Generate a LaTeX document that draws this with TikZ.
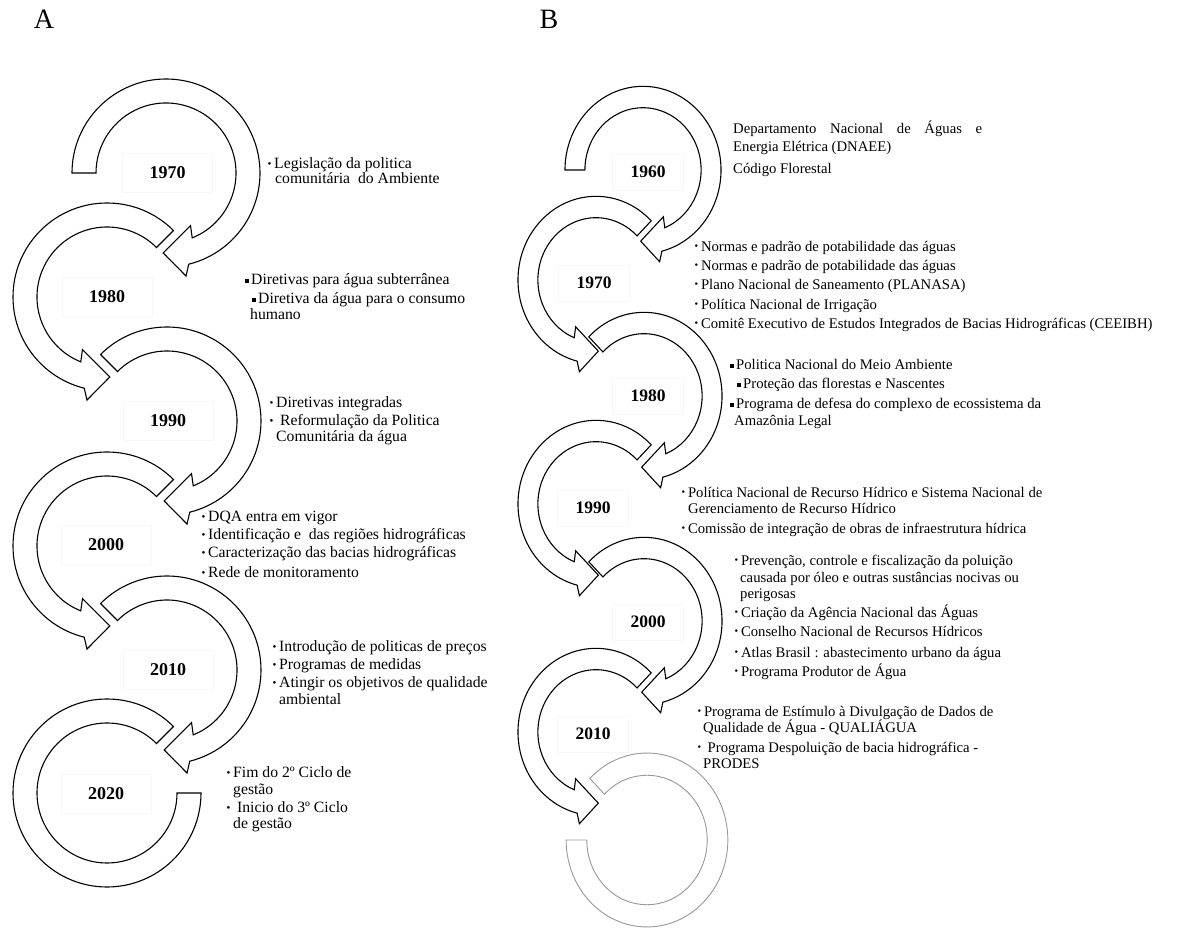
\documentclass[tikz,border=0pt]{standalone}
\usepackage{fontspec}
\usepackage{graphicx}
\setmainfont{Liberation Serif}
\newcommand{\bA}{\makebox[6pt][l]{\hspace*{-0.6pt}\raisebox{1.6pt}{\scalebox{0.7}{•}}}}
\newcommand{\bB}{\makebox[5.8pt][l]{\hspace*{-0.6pt}\raisebox{1.5pt}{\scalebox{0.7}{•}}}}
\newcommand{\sA}{\makebox[6pt][l]{\rule[1.8pt]{3.8pt}{3.8pt}}}
\newcommand{\sB}{\makebox[6pt][l]{\rule[1.7pt]{3.5pt}{3.5pt}}}
% clockwise circular arrow: #1 = placement options, #2 = start angle of the tail
\newcommand{\cwarr}[2]{\draw[band,#1] (#2:94) arc[start angle=#2,end angle=-76,radius=94] -- (-79:105) -- (-92:80) -- (-65:58) -- (-68:70) arc[start angle=-68,end angle=#2,radius=70] -- cycle;}
% counter-clockwise circular arrow: #1 = placement options
\newcommand{\ccwarr}[1]{\draw[band,#1] (45:94) arc[start angle=45,end angle=256,radius=94] -- (259:105) -- (272:80) -- (245:58) -- (248:70) arc[start angle=248,end angle=45,radius=70] -- cycle;}
\tikzset{
  band/.style={draw=black, fill=white, line width=1.1pt, line join=miter},
  gband/.style={draw=black!40, fill=white, line width=0.9pt},
  yrA/.style={font=\fontsize{18}{20}\selectfont\bfseries, draw=black!3, line width=0.4pt, minimum width=90pt, minimum height=39pt, inner sep=0pt},
  yrB/.style={font=\fontsize{17.5}{20}\selectfont\bfseries, draw=black!3, line width=0.4pt, minimum width=71pt, minimum height=36pt, inner sep=0pt},
  tA/.style={font=\fontsize{15.7}{17}\selectfont, anchor=base west, inner sep=0pt},
  tB/.style={font=\fontsize{14.7}{16}\selectfont, anchor=base west, inner sep=0pt},
  pan/.style={font=\fontsize{28}{30}\selectfont, inner sep=0pt}
}
\begin{document}
\begin{tikzpicture}[x=1pt,y=1pt]
\useasboundingbox[fill=white] (0,0) rectangle (1189,929);
% panel letters
\node[pan] (pA) at (44,910) {A};
\node[pan] (pB) at (549,910) {B};
% ---------------- Panel A arrows
\cwarr{shift={(166,756)}}{180}
\ccwarr{shift={(107,632)}}
\cwarr{shift={(167,508)}}{135}
\ccwarr{shift={(107,383)}}
\cwarr{shift={(167,259)}}{135}
\draw[band,shift={(107,136)}] (45:94) arc[start angle=45,end angle=360,radius=94] -- (0:70) arc[start angle=360,end angle=45,radius=70] -- cycle;
% ---------------- Panel B arrows
\cwarr{shift={(643,759)},xscale=0.83,yscale=0.89}{180}
\ccwarr{shift={(596,649)},xscale=0.83,yscale=0.89}
\cwarr{shift={(644,533)},xscale=0.83,yscale=0.89}{135}
\ccwarr{shift={(596,425)},xscale=0.83,yscale=0.89}
\cwarr{shift={(644,308)},xscale=0.83,yscale=0.89}{135}
\ccwarr{shift={(596,197)},xscale=0.83,yscale=0.89}
\draw[gband,shift={(647,89)},xscale=0.86,yscale=0.925] (180:94) arc[start angle=180,end angle=495,radius=94] -- (135:70) arc[start angle=495,end angle=180,radius=70] -- cycle;
% ---------------- years A
\node[yrA] (yA70) at (167.5,756) {1970};
\node[yrA] (yA80) at (107,632) {1980};
\node[yrA] (yA90) at (168,508) {1990};
\node[yrA] (yA00) at (106,384) {2000};
\node[yrA] (yA10) at (168,259) {2010};
\node[yrA] (yA20) at (106,135) {2020};
% ---------------- years B
\node[yrB] (yB60) at (648,757) {1960};
\node[yrB] (yB70) at (594,646) {1970};
\node[yrB] (yB80) at (648,533) {1980};
\node[yrB] (yB90) at (593,421) {1990};
\node[yrB] (yB00) at (648,307) {2000};
\node[yrB] (yB10) at (593,195) {2010};
% ---------------- texts A
\node[tA] (tA70a) at (268,760) {\bA Legislação da politica};
\node[tA] (tA70b) at (275,745) {comunitária\ \ do Ambiente};
\node[tA] (tA80a) at (245,644) {\sA Diretivas para água subterrânea};
\node[tA] (tA80b) at (252,625) {\sA Diretiva da água para o consumo};
\node[tA] (tA80c) at (250,609) {humano};
\node[tA] (tA90a) at (270,521) {\bA Diretivas integradas};
\node[tA] (tA90b) at (270,503) {\bA\ Reformulação da Politica};
\node[tA] (tA90c) at (276,487) {Comunitária da água};
\node[tA] (tA00a) at (202,407) {\bA DQA entra em vigor};
\node[tA] (tA00b) at (202,389) {\bA Identificação e\ \ das regiões hidrográficas};
\node[tA] (tA00c) at (202,371) {\bA Caracterização das bacias hidrográficas};
\node[tA] (tA00d) at (202,351) {\bA Rede de monitoramento};
\node[tA] (tA10a) at (273,277) {\bA Introdução de politicas de preços};
\node[tA] (tA10b) at (273,259) {\bA Programas de medidas};
\node[tA] (tA10c) at (273,241) {\bA Atingir os objetivos de qualidade};
\node[tA] (tA10d) at (279,224) {ambiental};
\node[tA] (tA20a) at (227,151) {\bA Fim do 2º Ciclo de};
\node[tA] (tA20b) at (233,134) {gestão};
\node[tA] (tA20c) at (227,116) {\bA\ Inicio do 3º Ciclo};
\node[tA] (tA20d) at (233,100) {de gestão};
% ---------------- texts B
\node[tB] (tB60a) at (733,795.5) {\makebox[249pt][s]{Departamento Nacional de Águas e}};
\node[tB] (tB60b) at (733,777.5) {Energia Elétrica (DNAEE)};
\node[tB] (tB60c) at (733,755.5) {Código Florestal};
\node[tB] (tB70a) at (695,677.5) {\bB Normas e padrão de potabilidade das águas};
\node[tB] (tB70b) at (695,658.5) {\bB Normas e padrão de potabilidade das águas};
\node[tB] (tB70c) at (695,639.5) {\bB Plano Nacional de Saneamento (PLANASA)};
\node[tB] (tB70d) at (695,619.5) {\bB Política Nacional de Irrigação};
\node[tB] (tB70e) at (695,600.5) {\bB Comitê Executivo de Estudos Integrados de Bacias Hidrográficas (CEEIBH)};
\node[tB] (tB80a) at (730,559.5) {\sB Politica Nacional do Meio Ambiente};
\node[tB] (tB80b) at (737,540.5) {\sB Proteção das florestas e Nascentes};
\node[tB] (tB80c) at (730,520.5) {\sB Programa de defesa do complexo de ecossistema da};
\node[tB] (tB80d) at (734,503.5) {Amazônia Legal};
\node[tB] (tB90a) at (682,431.5) {\bB Política Nacional de Recurso Hídrico e Sistema Nacional de};
\node[tB] (tB90b) at (688,415.5) {Gerenciamento de Recurso Hídrico};
\node[tB] (tB90c) at (682,395.5) {\bB Comissão de integração de obras de infraestrutura hídrica};
\node[tB] (tB00a) at (735,363.5) {\bB Prevenção, controle e fiscalização da poluição};
\node[tB] (tB00b) at (740,346.5) {causada por óleo e outras sustâncias nocivas ou};
\node[tB] (tB00c) at (740,330.5) {perigosas};
\node[tB] (tB00d) at (735,311.5) {\bB Criação da Agência Nacional das Águas};
\node[tB] (tB00e) at (735,292.5) {\bB Conselho Nacional de Recursos Hídricos};
\node[tB] (tB00f) at (735,271.5) {\bB Atlas Brasil : abastecimento urbano da água};
\node[tB] (tB00g) at (735,252.5) {\bB Programa Produtor de Água};
\node[tB] (tB10a) at (698,212.5) {\bB Programa de Estímulo à Divulgação de Dados de};
\node[tB] (tB10b) at (703,196.5) {Qualidade de Água - QUALIÁGUA};
\node[tB] (tB10c) at (698,176.5) {\bB\ Programa Despoluição de bacia hidrográfica -};
\node[tB] (tB10d) at (703,160.5) {PRODES};
\end{tikzpicture}
\end{document}
